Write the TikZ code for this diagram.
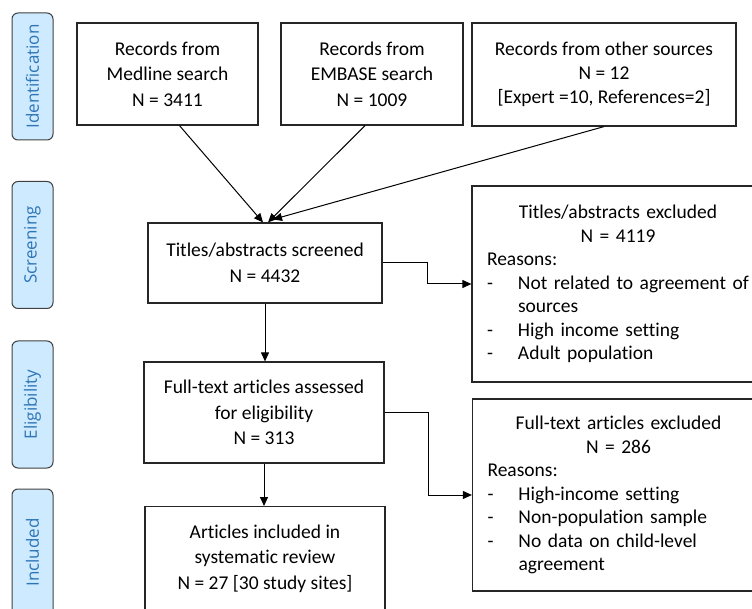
\documentclass[tikz,border=0pt]{standalone}
\usepackage{fontspec}
\setmainfont{Carlito}[Ligatures=NoCommon]
\newfontfamily\phasefont{Open Sans}
\usetikzlibrary{arrows.meta}
\definecolor{phasefill}{RGB}{206,234,255}
\definecolor{phasetext}{RGB}{46,117,182}
\newcommand{\reason}[1]{\noindent\hangindent=31pt\hangafter=1\makebox[31pt][l]{-}#1\par}

\begin{document}
\begin{tikzpicture}[x=1pt, y=-1pt,
	box/.style={draw=black!85, line width=1.2pt, fill=white, inner sep=0pt, align=center,
		font=\fontsize{19.5}{25.5}\selectfont},
	exclbox/.style={draw=black!85, line width=1.2pt, fill=white, inner xsep=15pt, inner ysep=0pt,
		text width=262pt, font=\fontsize{19.5}{23.5}\selectfont},
	phase/.style={draw=black!75, line width=1pt, fill=phasefill, rounded corners=6pt, rotate=90,
		minimum width=127pt, minimum height=41pt, inner sep=0pt, text=phasetext,
		font=\phasefont\fontsize{17}{20}\selectfont},
	arr/.style={-{Triangle[length=9pt,width=8pt]}, line width=1pt}]
	\useasboundingbox (0,0) rectangle (752,609);
	\clip (0,0) rectangle (752,609);

	\node[phase] (p1) at (32.5,76.5) {Identification};
	\node[phase] (p2) at (32.5,245) {Screening};
	\node[phase] (p3) at (32.5,404.5) {Eligibility};
	\node[phase] (p4) at (32.5,552.5) {Included};

	\node[box, minimum width=181pt, minimum height=102pt] (1) at (167.5,74) {Records from\\ Medline search\\ N = 3411};
	\node[box, minimum width=182pt, minimum height=102pt] (2) at (372,74) {Records from\\ EMBASE search\\ N = 1009};
	\node[box, minimum width=264pt, minimum height=103pt, font=\fontsize{19.5}{24}\selectfont] (3) at (604,74.5)
		{Records from other sources\\ N = 12\\ {[}Expert =10, References=2{]}};
	\node[box, minimum width=234pt, minimum height=80pt] (4) at (265,263) {Titles/abstracts screened\\ N = 4432};
	\node[exclbox, minimum height=196pt] (5) at (618,284)
		{{\centering Titles/abstracts excluded\\ N = 4119\par}
		\raggedright\noindent Reasons:\par
		\reason{Not related to agreement of\newline sources}
		\reason{High income setting}
		\reason{Adult population}};
	\node[box, minimum width=240pt, minimum height=101pt] (6) at (264,412.5) {Full-text articles assessed\\ for eligibility\\ N = 313};
	\node[exclbox, minimum height=192pt] (7) at (618.5,495)
		{{\centering Full-text articles excluded\\ N = 286\par}
		\raggedright\noindent Reasons:\par
		\reason{High-income setting}
		\reason{Non-population sample}
		\reason{No data on child-level\newline agreement}};
	\node[box, minimum width=240pt, anchor=north, inner ysep=18pt, text depth=60pt] (8) at (265,506)
		{Articles included in\\ systematic review\\ N = 27 [30 study sites]};

	\path[arr]
		([xshift=12pt]1.south) edge ([xshift=-2pt]4.north)
		([xshift=-7pt]2.south) edge ([xshift=3pt]4.north)
		(3.south) edge ([xshift=8pt,yshift=3pt]4.north)
		(4.south) edge (4.south |- 6.north)
		(6.south) edge (6.south |- 8.north);
	\draw[arr] (4.east) -- ++(45,0) |- (5.west);
	\draw[arr] (6.east) -- ++(44,0) |- (7.west);
\end{tikzpicture}
\end{document}
